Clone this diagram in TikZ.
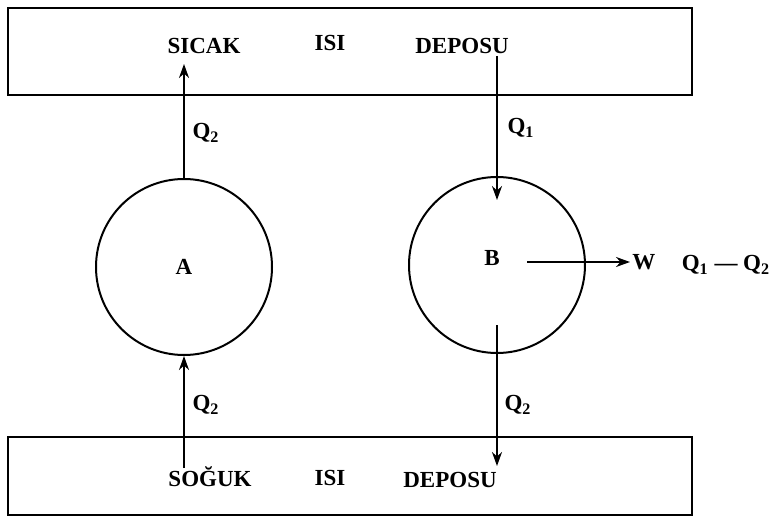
\documentclass[tikz,border=0pt]{standalone}
\usepackage{fontspec}
\setmainfont{Liberation Serif}
\usetikzlibrary{arrows.meta}

\begin{document}
\begin{tikzpicture}[x=0.5pt,y=-0.5pt,>={Stealth[length=7pt,width=5pt]},
    depot/.style={draw,line width=0.8pt,minimum width=342pt,inner sep=0pt},
    engine/.style={draw,circle,line width=1pt,minimum size=88pt,inner sep=0pt},
    flow/.style={->,line width=1pt},
    txt/.style={font=\fontsize{11.5}{13}\selectfont\bfseries,inner sep=1pt}]
  \useasboundingbox (0,0) rectangle (772,524);

  % heat reservoirs
  \node[depot,minimum height=43.5pt] (hot) at (350,51.5) {};
  \node[depot,minimum height=39pt] (cold) at (350,476) {};
  \node[txt] (hot1) at (204,46) {SICAK};
  \node[txt] (hot2) at (330,43) {ISI};
  \node[txt] (hot3) at (462,46) {DEPOSU};
  \node[txt] (cold1) at (210,477) {SOĞUK};
  \node[txt] (cold2) at (330,478) {ISI};
  \node[txt] (cold3) at (450,480) {DEPOSU};

  % engines
  \node[engine,txt] (A) at (184,267) {A};
  \node[engine,txt] (B) at (497,265) {};
  \node[txt] (Blbl) at (492,258) {B};

  % heat flows
  \coordinate (hotA) at (184,64);
  \coordinate (coldA) at (184,468);
  \coordinate (hotB) at (497,56);
  \coordinate (inB) at (497,200);
  \coordinate (outB) at (497,325);
  \coordinate (coldB) at (497,466);
  \draw[flow] (A.north) -- (hotA);
  \draw[flow] (coldA) -- (A.south);
  \draw[flow] (hotB) -- (inB);
  \draw[flow] (outB) -- (coldB);
  \node[txt] (qa1) at (206,133) {Q\textsubscript{2}};
  \node[txt] (qa2) at (206,405) {Q\textsubscript{2}};
  \node[txt] (qb1) at (521,128) {Q\textsubscript{1}};
  \node[txt] (qb2) at (518,405) {Q\textsubscript{2}};

  % work output
  \coordinate (wB) at (527,262);
  \node[txt,anchor=west] (W) at (630,262) {W};
  \draw[flow] (wB) -- (wB -| W.west);
  \node[txt] (net) at (726,265) {Q\textsubscript{1} --- Q\textsubscript{2}};
\end{tikzpicture}
\end{document}
